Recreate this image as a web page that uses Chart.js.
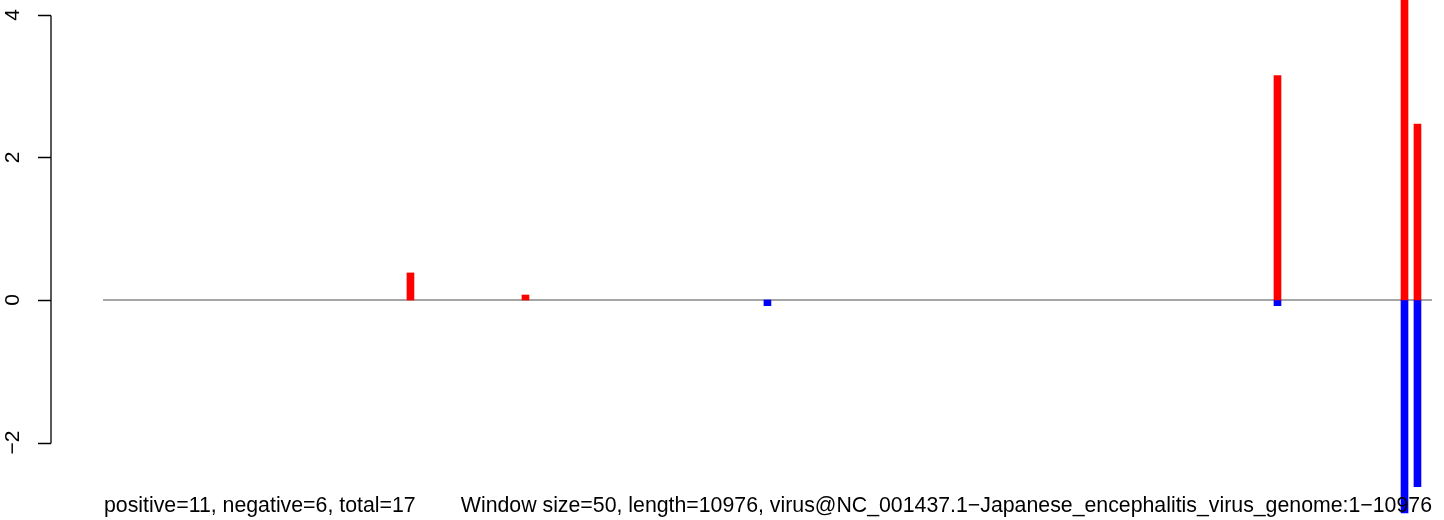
<!DOCTYPE html>
<html>
<head>
<meta charset="utf-8">
<script src="https://cdn.jsdelivr.net/npm/chart.js@4.4.1/dist/chart.umd.min.js"></script>
<style>
  html, body { margin: 0; padding: 0; background: #fff; }
  #wrap { width: 1444px; height: 520px; }
</style>
</head>
<body>
<div id="wrap"><canvas id="skewChart" width="1444" height="520"></canvas></div>
<script>
// window positions along the genome (bp) and the skew values
const positions = [2540, 3490, 5488, 9700, 10749, 10856];
const positiveValues = [0.38, 0.07, null, 3.15, 4.5, 2.47];
const negativeValues = [null, null, -0.08, -0.08, -2.99, -2.62];
const yTicks = [-2, 0, 2, 4];
const genomeLength = 10976;
const leftNote = 'positive=11, negative=6, total=17';
const rightNote = 'Window size=50, length=10976, virus@NC_001437.1\u2212Japanese_encephalitis_virus_genome:1\u221210976';

function toPoints(vals) {
    return positions.map((p, i) => ({ x: p, y: vals[i] })).filter(d => d.y !== null);
}

// R-style left axis and bottom notes, drawn from the chart's own y scale
const rAxis = {
    id: 'rAxis',
    afterDraw(chart) {
        const ctx = chart.ctx;
        const y = chart.scales.y;
        const axisX = 51;
        ctx.save();
        ctx.strokeStyle = '#000';
        ctx.lineWidth = 1.3;
        ctx.beginPath();
        ctx.moveTo(axisX, Math.round(y.getPixelForValue(yTicks[yTicks.length - 1])) + 0.5);
        ctx.lineTo(axisX, Math.round(y.getPixelForValue(yTicks[0])) + 0.5);
        yTicks.forEach(t => {
            const py = Math.round(y.getPixelForValue(t)) + 0.5;
            ctx.moveTo(axisX, py);
            ctx.lineTo(38, py);
        });
        ctx.stroke();

        ctx.fillStyle = '#000';
        ctx.font = '21px "Liberation Sans", Arial, sans-serif';
        ctx.textAlign = 'center';
        ctx.textBaseline = 'middle';
        yTicks.forEach(t => {
            const py = y.getPixelForValue(t);
            ctx.save();
            ctx.translate(13, py);
            ctx.rotate(-Math.PI / 2);
            ctx.fillText(t < 0 ? '\u2212' + Math.abs(t) : String(t), 0, 0);
            ctx.restore();
        });

        ctx.font = '21.3px "Liberation Sans", Arial, sans-serif';
        ctx.textBaseline = 'alphabetic';
        ctx.textAlign = 'left';
        ctx.fillText(leftNote, 104, 512);
        ctx.textAlign = 'right';
        ctx.fillText(rightNote, 1432, 512);
        ctx.restore();
    }
};

const ctx = document.getElementById('skewChart').getContext('2d');
new Chart(ctx, {
    type: 'bar',
    data: {
        datasets: [
            {
                type: 'line',
                data: [{ x: 1, y: 0 }, { x: genomeLength, y: 0 }],
                borderColor: '#888888',
                borderWidth: 1.3,
                pointRadius: 0,
                order: 3
            },
            {
                label: 'positive',
                data: toPoints(positiveValues),
                backgroundColor: '#ff0000',
                barThickness: 7,
                grouped: false,
                order: 1
            },
            {
                label: 'negative',
                data: toPoints(negativeValues),
                backgroundColor: '#0000ff',
                barThickness: 7,
                grouped: false,
                order: 2
            }
        ]
    },
    options: {
        responsive: false,
        animation: false,
        layout: { padding: 0 },
        plugins: { legend: { display: false }, tooltip: { enabled: false } },
        scales: {
            x: {
                type: 'linear',
                display: false,
                offset: false,
                min: -849.6,
                max: 11075.1
            },
            y: {
                display: false,
                min: -3.0877,
                max: 4.2105
            }
        }
    },
    plugins: [rAxis]
});
</script>
</body>
</html>
